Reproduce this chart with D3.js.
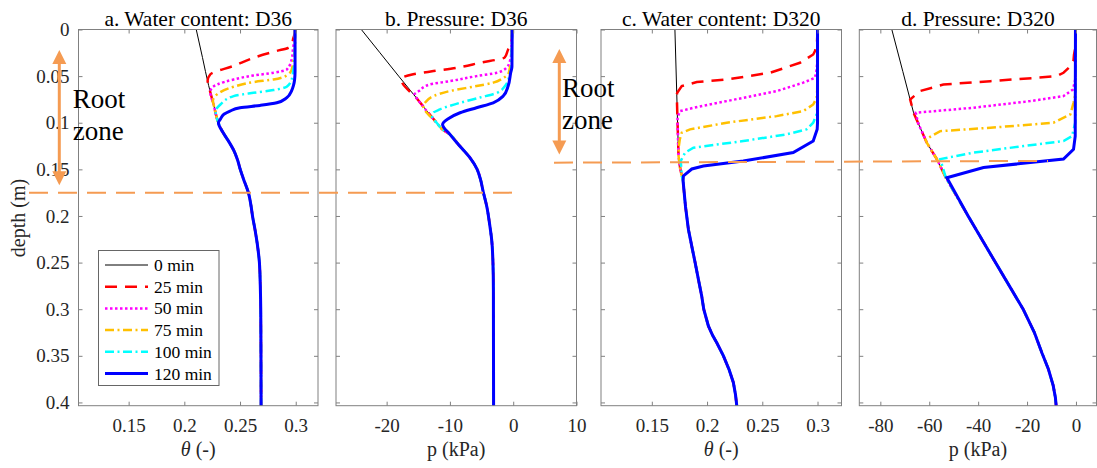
<!DOCTYPE html>
<html lang="en">
<head>
  <meta charset="UTF-8" />
  <title>Water content and pressure profiles</title>
  <script src="https://d3js.org/d3.v7.min.js"></script>
  <style>
    body {
      margin: 0;
      background: #fff;
    }

    svg, svg text {
      font-family: "Liberation Serif", "DejaVu Serif", serif;
    }

    svg {
      display: block;
    }

    .tick text {
      font-size: 19px;
      fill: #262626;
    }

    .tick line {
      stroke: #808080;
    }

    .frame {
      fill: none;
      stroke: #808080;
      stroke-width: 1;
    }

    .title {
      font-size: 21.5px;
      fill: #000;
    }

    .axis-label {
      font-size: 20px;
      fill: #262626;
    }

    .legend text {
      font-size: 17.5px;
      fill: #000;
    }

    .root-text {
      font-size: 27px;
      fill: #000;
    }
  </style>
</head>

<body>
  <svg width="1097" height="468"></svg>

  <script>
    const seriesNames = ["0 min", "25 min", "50 min", "75 min", "100 min", "120 min"];
    const seriesColors = ["#000000", "#ff0000", "#ff00ff", "#ffc000", "#00ffff", "#0000ff"];
    const seriesWidths = [1, 2.5, 2.5, 2.5, 2.5, 3];
    const seriesDash = [null, "12,8", "2.5,2.5", "9,3.5,2,3.5", "9,3.5,2,3.5", null];

    const depthTicks = [0, 0.05, 0.1, 0.15, 0.2, 0.25, 0.3, 0.35, 0.4];
    const thetaTicks = [0.15, 0.2, 0.25, 0.3];
    const pressTicksD36 = [-20, -10, 0, 10];
    const pressTicksD320 = [-80, -60, -40, -20, 0];

    // [depth (m), value] ; 0 min profile, the lower part is shared by every time
    const thetaD36Base = [[0, 0.2107], [0.03, 0.2163], [0.06, 0.2218], [0.08, 0.2262], [0.1, 0.2306],
      [0.11, 0.2345], [0.12, 0.2398], [0.13, 0.2445], [0.14, 0.2478], [0.15, 0.2502], [0.16, 0.2530],
      [0.175, 0.2575], [0.19, 0.2600], [0.2, 0.2612], [0.215, 0.2635], [0.23, 0.2655], [0.25, 0.2674],
      [0.275, 0.2682], [0.3, 0.2686], [0.35, 0.2688], [0.4035, 0.2689]];

    // wetted top of the 25..120 min profiles, below the last point they follow the 0 min profile
    const thetaD36Wet = [
      [[0, 0.2994], [0.005, 0.2990], [0.009, 0.2979], [0.016, 0.2964], [0.0196, 0.2934], [0.023, 0.2830],
        [0.0304, 0.2621], [0.039, 0.2443], [0.048, 0.2234], [0.055, 0.2209]],
      [[0, 0.2994], [0.012, 0.2990], [0.0179, 0.2979], [0.032, 0.2964], [0.043, 0.2919], [0.0464, 0.2800],
        [0.0493, 0.2620], [0.0536, 0.2443], [0.059, 0.2294], [0.0625, 0.2249], [0.067, 0.2233]],
      [[0, 0.2994], [0.025, 0.2990], [0.032, 0.2979], [0.043, 0.2964], [0.0493, 0.2919], [0.0536, 0.2800],
        [0.0564, 0.2620], [0.0614, 0.2443], [0.0696, 0.2294], [0.0768, 0.2256]],
      [[0, 0.2994], [0.036, 0.2990], [0.043, 0.2979], [0.0536, 0.2964], [0.0614, 0.2919], [0.065, 0.2800],
        [0.0679, 0.2620], [0.0714, 0.2443], [0.0804, 0.2324], [0.0875, 0.2281]],
      [[0, 0.2994], [0.045, 0.2994], [0.0536, 0.2990], [0.060, 0.2980], [0.066, 0.2962], [0.0733, 0.2919],
        [0.0786, 0.2830], [0.0814, 0.2680], [0.0839, 0.2500], [0.0875, 0.2410], [0.091, 0.2355], [0.096, 0.2325]]
    ];

    const pressD36Base = [[0, -24.0], [0.025, -21.05], [0.05, -18.1], [0.075, -15.1], [0.1, -12.1], [0.107, -11.2],
      [0.1125, -10.0], [0.123, -8.7], [0.1375, -6.84], [0.15, -5.7], [0.16, -5.2], [0.174, -4.74], [0.189, -4.2],
      [0.211, -3.68], [0.225, -3.41], [0.25, -3.2], [0.28, -3.13], [0.33, -3.12], [0.4035, -3.1]];

    const pressD36Wet = [
      [[0, -0.2], [0.015, -0.25], [0.0214, -0.8], [0.03, -1.35], [0.0357, -5.26], [0.041, -8.9], [0.0446, -12.6],
        [0.048, -15.8], [0.053, -17.7]],
      [[0, -0.2], [0.025, -0.3], [0.034, -0.52], [0.041, -1.05], [0.0464, -2.6], [0.05, -5.8], [0.0554, -10.0],
        [0.059, -13.2], [0.066, -14.9], [0.07, -15.6]],
      [[0, -0.2], [0.032, -0.26], [0.041, -0.52], [0.048, -0.8], [0.052, -1.58], [0.057, -3.16], [0.0607, -5.8],
        [0.066, -10.0], [0.0714, -12.6], [0.0786, -13.95], [0.082, -14.2]],
      [[0, -0.2], [0.042, -0.3], [0.048, -0.52], [0.0607, -1.3], [0.068, -2.6], [0.073, -5.26], [0.0786, -8.4],
        [0.0857, -11.6], [0.0893, -12.6], [0.094, -12.8]],
      [[0, -0.16], [0.04, -0.2], [0.0464, -0.4], [0.0607, -0.8], [0.0714, -1.58], [0.0786, -3.16], [0.0839, -5.8],
        [0.0893, -8.4], [0.0955, -10.2], [0.1018, -11.16], [0.1125, -10.0]]
    ];

    const thetaD320Base = [[0, 0.1709], [0.07, 0.1726], [0.1, 0.1733], [0.136, 0.1742], [0.15, 0.1758],
      [0.1625, 0.1783], [0.19, 0.1805], [0.2143, 0.1831], [0.235, 0.1866], [0.25, 0.1892], [0.27, 0.1925],
      [0.286, 0.1952], [0.3, 0.1970], [0.318, 0.2012], [0.328, 0.2050], [0.336, 0.2088], [0.35, 0.2148],
      [0.365, 0.2200], [0.3786, 0.2238], [0.392, 0.2258], [0.4035, 0.2269]];

    const thetaD320Wet = [
      [[0, 0.3], [0.015, 0.2995], [0.023, 0.2977], [0.0268, 0.2961], [0.0357, 0.2841], [0.0464, 0.2570],
        [0.0536, 0.2178], [0.0564, 0.1907], [0.0607, 0.1771], [0.0679, 0.1730]],
      [[0, 0.3], [0.035, 0.2997], [0.0429, 0.2992], [0.0518, 0.2977], [0.057, 0.2871], [0.0661, 0.2630],
        [0.0768, 0.2178], [0.084, 0.1877], [0.0875, 0.1756], [0.094, 0.1733]],
      [[0, 0.3], [0.065, 0.2997], [0.0732, 0.2992], [0.0804, 0.2961], [0.0875, 0.2871], [0.0929, 0.2630],
        [0.1, 0.2178], [0.1071, 0.1846], [0.1107, 0.1771], [0.118, 0.1753], [0.125, 0.1745]],
      [[0, 0.3], [0.085, 0.2997], [0.091, 0.2992], [0.1, 0.2961], [0.1071, 0.2900], [0.1125, 0.2720],
        [0.1196, 0.2328], [0.1268, 0.1877], [0.1321, 0.1801], [0.141, 0.1762], [0.157, 0.1771]],
      [[0, 0.3], [0.1, 0.3], [0.107, 0.2997], [0.1196, 0.2961], [0.132, 0.2780], [0.1411, 0.2328],
        [0.1465, 0.1967], [0.1496, 0.1862], [0.157, 0.1786]]
    ];

    const pressD320Base = [[0, -75.3], [0.045, -70.8], [0.0893, -66.4], [0.1, -64.6], [0.1214, -61.0],
      [0.139, -56.9], [0.159, -53.2], [0.2, -44.1], [0.25, -32.9], [0.3, -21.6], [0.325, -17.0],
      [0.347, -13.9], [0.364, -11.3], [0.382, -9.3], [0.395, -8.4], [0.4035, -8.1]];

    const pressD320Wet = [
      [[0, -0.2], [0.02, -0.3], [0.027, -0.8], [0.033, -1.0], [0.04, -2.5], [0.0464, -5.1], [0.05, -7.8],
        [0.052, -17.3], [0.0554, -35.0], [0.059, -54.2], [0.066, -63.7], [0.075, -67.8]],
      [[0, -0.2], [0.0536, -0.3], [0.0643, -1.2], [0.0714, -5.1], [0.0768, -18.7], [0.0839, -41.9],
        [0.0893, -65.5]],
      [[0, -0.2], [0.07, -0.3], [0.0786, -1.0], [0.091, -2.3], [0.1, -9.2], [0.1054, -35.0], [0.109, -55.5],
        [0.118, -61.5]],
      [[0, -0.2], [0.1, -0.3], [0.1143, -1.6], [0.1196, -5.1], [0.125, -21.4], [0.1321, -41.9], [0.139, -55.5]],
      [[0, -0.2], [0.1143, -0.3], [0.1286, -1.0], [0.139, -5.1], [0.148, -37.8], [0.159, -52.8]]
    ];

    // root zone bottom depth for D36 and D320
    const rootDepths = [0.175, 0.142];

    const svg = d3.select("svg");
    const plotTop = 29.5, plotBottom = 405.7;
    const y = d3.scaleLinear().domain([0, 0.4035]).range([plotTop, plotBottom]);

    const panels = [
      { title: "a. Water content: D36", label: "theta", x0: 78.5, x1: 318, domain: [0.105, 0.32],
        ticks: thetaTicks, base: thetaD36Base, wet: thetaD36Wet, curve: d3.curveMonotoneY, yLabels: true },
      { title: "b. Pressure: D36", label: "p (kPa)", x0: 336, x1: 576.5, domain: [-28, 10],
        ticks: pressTicksD36, base: pressD36Base, wet: pressD36Wet, curve: d3.curveMonotoneY },
      { title: "c. Water content: D320", label: "theta", x0: 601, x1: 841.5, domain: [0.104, 0.3217],
        ticks: thetaTicks, base: thetaD320Base, wet: thetaD320Wet, curve: d3.curveLinear },
      { title: "d. Pressure: D320", label: "p (kPa)", x0: 859.3, x1: 1096.5, domain: [-88.6, 8.4],
        ticks: pressTicksD320, base: pressD320Base, wet: pressD320Wet, curve: d3.curveLinear }
    ];

    // d3 axes put a sans-serif font on their group, drop it so the css applies
    function plainAxis(a) {
      a.attr("font-family", null).attr("font-size", null);
      a.select(".domain").remove();
      a.selectAll(".tick line").attr("stroke", null);
      a.selectAll(".tick text").attr("fill", null);
    }

    panels.forEach(p => {
      const x = d3.scaleLinear().domain(p.domain).range([p.x0, p.x1]);
      const g = svg.append("g");

      // curves: 0 min first, 120 min last (on top)
      const series = [p.base].concat(p.wet.map(w => {
        const last = w[w.length - 1][0];
        return w.concat(p.base.filter(b => b[0] > last));
      }));

      const line = d3.line()
        .x(d => x(d[1]))
        .y(d => y(d[0]))
        .curve(p.curve);

      g.selectAll("path.series")
        .data(series)
        .join("path")
        .attr("class", "series")
        .attr("d", line)
        .attr("fill", "none")
        .attr("stroke", (d, i) => seriesColors[i])
        .attr("stroke-width", (d, i) => seriesWidths[i])
        .attr("stroke-dasharray", (d, i) => seriesDash[i]);

      // inward ticks on all four sides
      g.append("g").attr("transform", `translate(0,${plotBottom})`)
        .call(d3.axisBottom(x).tickValues(p.ticks).tickSize(-4).tickPadding(13).tickFormat(d => String(d)))
        .call(plainAxis);
      g.append("g").attr("transform", `translate(0,${plotTop})`)
        .call(d3.axisTop(x).tickValues(p.ticks).tickSize(-4).tickFormat(""))
        .call(plainAxis);
      g.append("g").attr("transform", `translate(${p.x0},0)`)
        .call(d3.axisLeft(y).tickValues(depthTicks).tickSize(-4).tickPadding(9)
          .tickFormat(p.yLabels ? (d => String(d)) : ""))
        .call(plainAxis);
      g.append("g").attr("transform", `translate(${p.x1},0)`)
        .call(d3.axisRight(y).tickValues(depthTicks).tickSize(-4).tickFormat(""))
        .call(plainAxis);

      g.append("rect")
        .attr("class", "frame")
        .attr("x", p.x0).attr("y", plotTop)
        .attr("width", p.x1 - p.x0).attr("height", plotBottom - plotTop);

      const cx = (p.x0 + p.x1) / 2;
      g.append("text")
        .attr("class", "title")
        .attr("x", cx).attr("y", 26)
        .attr("text-anchor", "middle")
        .text(p.title);

      const lab = g.append("text")
        .attr("class", "axis-label")
        .attr("x", cx).attr("y", 456)
        .attr("text-anchor", "middle");
      if (p.label === "theta") {
        lab.append("tspan").attr("font-style", "italic").text("θ");
        lab.append("tspan").text(" (-)");
      } else {
        lab.text(p.label);
      }
    });

    svg.append("text")
      .attr("class", "axis-label")
      .attr("transform", "translate(25,218) rotate(-90)")
      .attr("text-anchor", "middle")
      .text("depth (m)");

    // legend
    const legend = svg.append("g").attr("class", "legend");
    legend.append("rect")
      .attr("x", 98.5).attr("y", 250.5)
      .attr("width", 120.5).attr("height", 135)
      .attr("fill", "#fff").attr("stroke", "#666").attr("stroke-width", 1);
    seriesNames.forEach((name, i) => {
      const ly = 265 + i * 21.7;
      legend.append("line")
        .attr("x1", 105).attr("x2", 148).attr("y1", ly).attr("y2", ly)
        .attr("stroke", seriesColors[i])
        .attr("stroke-width", seriesWidths[i])
        .attr("stroke-dasharray", seriesDash[i]);
      legend.append("text")
        .attr("x", 154).attr("y", ly + 6)
        .text(name);
    });

    // root zone annotations
    const orange = "#f59b52";

    function arrow(ax, yTip, yBot) {
      const head = 14, half = 7;
      svg.append("line")
        .attr("x1", ax).attr("x2", ax)
        .attr("y1", yTip + head - 1).attr("y2", yBot - head + 1)
        .attr("stroke", orange).attr("stroke-width", 3);
      svg.append("path")
        .attr("d", `M${ax},${yTip}L${ax - half},${yTip + head}L${ax + half},${yTip + head}Z`)
        .attr("fill", orange);
      svg.append("path")
        .attr("d", `M${ax},${yBot}L${ax - half},${yBot - head}L${ax + half},${yBot - head}Z`)
        .attr("fill", orange);
    }

    function rootLabel(tx, yRoot, yZone) {
      svg.append("text").attr("class", "root-text").attr("x", tx).attr("y", yRoot).text("Root");
      svg.append("text").attr("class", "root-text").attr("x", tx).attr("y", yZone).text("zone");
    }

    svg.append("line")
      .attr("x1", 29).attr("x2", 518)
      .attr("y1", y(rootDepths[0])).attr("y2", y(rootDepths[0]))
      .attr("stroke", orange).attr("stroke-width", 2).attr("stroke-dasharray", "19,10");
    svg.append("line")
      .attr("x1", 554).attr("x2", 1048)
      .attr("y1", y(rootDepths[1]) + 0.8).attr("y2", y(rootDepths[1]) - 1)
      .attr("stroke", orange).attr("stroke-width", 2).attr("stroke-dasharray", "19,10");

    arrow(59.3, y(0.022), y(rootDepths[0]) - 7.5);
    arrow(559.3, y(0.021), y(rootDepths[1]) - 7.5);
    rootLabel(72.7, 108, 140);
    rootLabel(562, 97, 129);
  </script>
</body>
</html>
